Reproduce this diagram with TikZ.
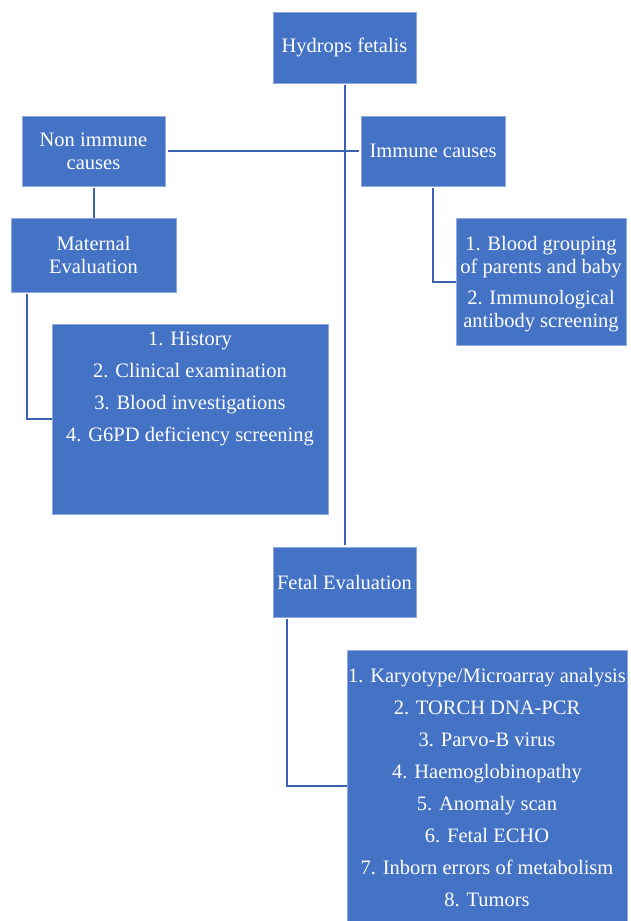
\documentclass[tikz,border=0pt]{standalone}
\usepackage{fontspec}
\setmainfont{Liberation Serif}
\usetikzlibrary{calc}
\definecolor{boxblue}{HTML}{4472C4}
\definecolor{edgeblue}{HTML}{8FAADC}
\definecolor{lineblue}{HTML}{3A62B0}
\tikzset{
   box/.style={fill=boxblue, draw=edgeblue, line width=0.8pt, inner sep=0pt,
      text=white, align=center, font=\fontsize{20.5}{23}\selectfont},
   txt/.style={inner sep=0pt, text=white, align=center,
      font=\fontsize{20.5}{23}\selectfont},
   link/.style={draw=lineblue, line width=2pt}
}
\begin{document}
\begin{tikzpicture}[x=1pt, y=-1pt]%
   \useasboundingbox (0,0) rectangle (630,921);
   \node (hydrops) [box, minimum width=143pt, minimum height=71pt] at (344.5,47.5) {Hydrops fetalis};
   \node (nonimm) [box, minimum width=143pt, minimum height=70pt] at (93.5,151) {Non immune\\causes};
   \node (immune) [box, minimum width=144pt, minimum height=70pt] at (433,151) {Immune causes};
   \node (matev) [box, minimum width=165pt, minimum height=74pt] at (93.5,255) {Maternal\\Evaluation};
   \node (matlist) [box, minimum width=276pt, minimum height=190pt] at (190,419) {};
   \node (blood) [box, minimum width=170pt, minimum height=127pt] at (541,281.5) {};
   \node (fetal) [box, minimum width=143pt, minimum height=70pt] at (344.5,582) {Fetal Evaluation};
   \node (fetlist) [box, minimum width=280pt, minimum height=271pt] at (487,785.5) {};
   \node (mattext) [txt, anchor=north] at ($(matlist.north)+(0,8)$)
      {1. History\\[9pt]2. Clinical examination\\[9pt]3. Blood investigations\\[9pt]4. G6PD deficiency screening};
   \node (bloodtext) [txt, anchor=north] at ($(blood.north)+(0,18)$)
      {1. Blood grouping\\of parents and baby\\[8pt]2. Immunological\\antibody screening};
   \node (fettext) [txt, anchor=north] at ($(fetlist.north)+(0,18)$)
      {1. Karyotype/Microarray analysis\\[9pt]2. TORCH DNA-PCR\\[9pt]3. Parvo-B virus\\[9pt]4. Haemoglobinopathy\\[9pt]5. Anomaly scan\\[9pt]6. Fetal ECHO\\[9pt]7. Inborn errors of metabolism\\[9pt]8. Tumors};
   \draw[link] ($(hydrops.south)+(0,2)$) -- ($(fetal.north)+(0,-2)$);
   \draw[link] ($(nonimm.east)+(3,0)$) -- ($(immune.west)+(-2,0)$);
   \draw[link] ($(nonimm.south)+(0,2)$) -- (matev.north);
   \draw[link] ($(matev.south west)+(16,2)$) |- (matlist.west);
   \draw[link] ($(immune.south)+(0,2)$) |- (blood.west);
   \draw[link] ($(fetal.south west)+(14,2)$) |- (fetlist.west);
\end{tikzpicture}
\end{document}
